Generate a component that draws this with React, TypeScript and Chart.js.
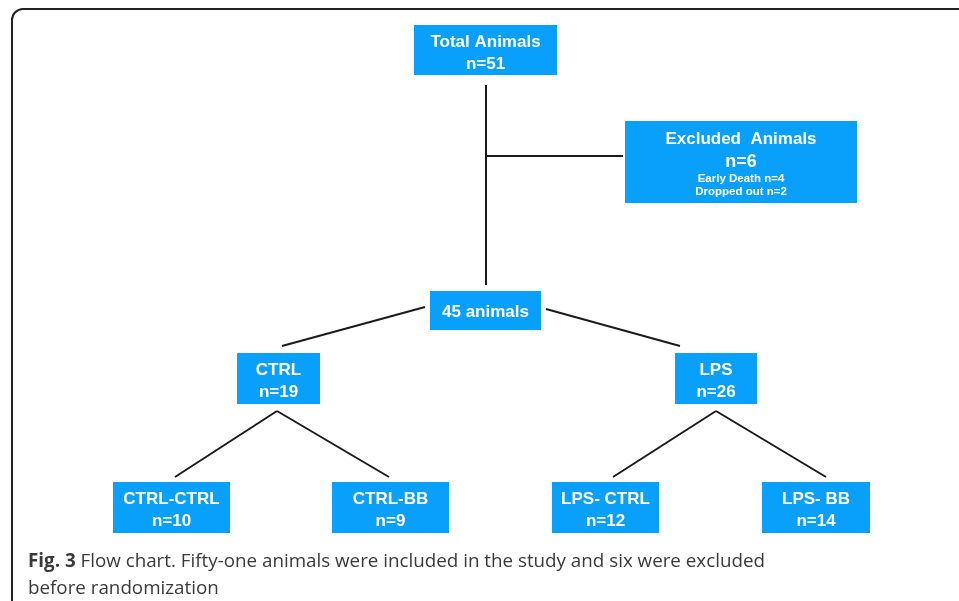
import React, { useEffect, useRef } from "react";
import Chart from "chart.js/auto";

// ---- data ----
const nodeTitles = ["Total Animals", "Excluded  Animals", "animals", "CTRL", "LPS", "CTRL-CTRL", "CTRL-BB", "LPS- CTRL", "LPS- BB"];
const nodeCounts = [51, 6, 45, 19, 26, 10, 9, 12, 14];
const excludedReasons = ["Early Death", "Dropped out"];
const excludedCounts = [4, 2];
const captionBold = "Fig. 3";
const captionText = " Flow chart. Fifty-one animals were included in the study and six were excluded";
const captionText2 = "before randomization";

// ---- layout (chart units = canvas pixels) ----
// [left, top, width, height]
const nodeRects = [
  [414, 25, 143, 50],
  [625, 121, 232, 82],
  [430, 291, 111, 39],
  [237, 353, 83, 51],
  [675, 353, 82, 51],
  [113, 482, 117, 51],
  [332, 482, 117, 51],
  [552, 482, 107, 51],
  [762, 482, 108, 51],
];
const connectors = [
  [[486, 85], [486, 285]],
  [[486, 156], [623, 156]],
  [[425, 307], [282, 346]],
  [[546, 309], [680, 346]],
  [[277, 411], [175, 477]],
  [[277, 411], [389, 477]],
  [[716, 411], [613, 477]],
  [[716, 411], [826, 477]],
];

const BOX_COLOR = "#08A0FA";
const LINE_COLOR = "#1b1b1b";
const BOX_FONT = '"Liberation Sans", Arial, Helvetica, sans-serif';

function nodeLines(i: number): { text: string; size: number; dy: number }[] {
  if (i === 1) {
    return [
      { text: nodeTitles[1], size: 17, dy: 22.5 },
      { text: "n=" + nodeCounts[1], size: 18, dy: 46 },
      { text: excludedReasons[0] + " n=" + excludedCounts[0], size: 11.5, dy: 60.5 },
      { text: excludedReasons[1] + " n=" + excludedCounts[1], size: 11.5, dy: 74 },
    ];
  }
  if (i === 2) {
    return [{ text: nodeCounts[2] + " " + nodeTitles[2], size: 17, dy: 26 }];
  }
  return [
    { text: nodeTitles[i], size: 17, dy: 22 },
    { text: "n=" + nodeCounts[i], size: 17, dy: 44 },
  ];
}

const framePlugin = {
  id: "framePlugin",
  beforeDraw(chart: any) {
    const ctx = chart.ctx;
    ctx.save();
    ctx.fillStyle = "#ffffff";
    ctx.fillRect(0, 0, chart.width, chart.height);
    ctx.strokeStyle = "#222222";
    ctx.lineWidth = 2;
    ctx.beginPath();
    ctx.moveTo(12, chart.height + 5);
    ctx.lineTo(12, 20);
    ctx.arcTo(12, 9, 23, 9, 11);
    ctx.lineTo(chart.width + 5, 9);
    ctx.stroke();
    ctx.restore();
  },
};

const boxPlugin = {
  id: "boxPlugin",
  afterDatasetsDraw(chart: any) {
    const ctx = chart.ctx;
    const xs = chart.scales.x;
    const ys = chart.scales.y;
    ctx.save();
    nodeRects.forEach((r, i) => {
      const x0 = xs.getPixelForValue(r[0]);
      const x1 = xs.getPixelForValue(r[0] + r[2]);
      const y0 = ys.getPixelForValue(r[1]);
      const y1 = ys.getPixelForValue(r[1] + r[3]);
      ctx.fillStyle = BOX_COLOR;
      ctx.fillRect(x0, y0, x1 - x0, y1 - y0);
      const cx = (x0 + x1) / 2;
      ctx.fillStyle = "#ffffff";
      ctx.textAlign = "center";
      ctx.textBaseline = "alphabetic";
      nodeLines(i).forEach((ln) => {
        ctx.font = `bold ${ln.size}px ${BOX_FONT}`;
        ctx.fillText(ln.text, cx, ys.getPixelForValue(r[1] + ln.dy));
      });
    });
    ctx.restore();
  },
};

export default function App() {
  const ref = useRef<HTMLCanvasElement | null>(null);
  useEffect(() => {
    if (!ref.current) return;
    const chart = new Chart(ref.current, {
      type: "scatter",
      data: {
        datasets: connectors.map((seg) => ({
          data: seg.map(([x, y]) => ({ x, y })),
          showLine: true,
          borderColor: LINE_COLOR,
          borderWidth: 2,
          pointRadius: 0,
          pointHoverRadius: 0,
          clip: false as any,
        })),
      },
      options: {
        responsive: false,
        animation: false,
        layout: { padding: 0 },
        events: [],
        scales: {
          x: { type: "linear", min: 0, max: 959, display: false },
          y: { type: "linear", min: 0, max: 601, reverse: true, display: false },
        },
        plugins: { legend: { display: false }, tooltip: { enabled: false }, title: { display: false } },
      },
      plugins: [framePlugin, boxPlugin],
    } as any);
    return () => chart.destroy();
  }, []);

  return (
    <div style={{ position: "fixed", left: 0, top: 0, width: 959, height: 601, background: "#fff", overflow: "hidden" }}>
      <canvas ref={ref} width={959} height={601} style={{ display: "block", width: 959, height: 601 }} />
      <div
        style={{
          position: "absolute",
          left: 28,
          top: 547,
          fontFamily: '"Open Sans", "Noto Sans", sans-serif',
          fontSize: 18.8,
          lineHeight: "27px",
          color: "#3a3a3a",
          whiteSpace: "pre",
        }}
      >
        <b>{captionBold}</b>
        {captionText}
        {"\n"}
        {captionText2}
      </div>
    </div>
  );
}
